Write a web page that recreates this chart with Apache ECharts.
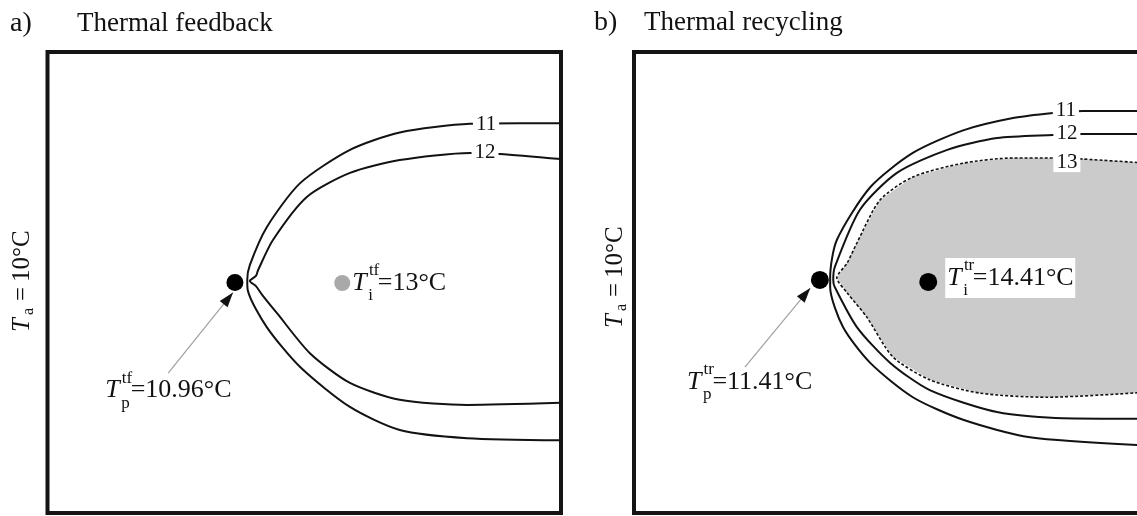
<!DOCTYPE html>
<html><head><meta charset="utf-8">
<script src="https://cdn.jsdelivr.net/npm/echarts@6/dist/echarts.min.js"></script>
<style>html,body{margin:0;padding:0;background:#fff}#c{width:1137px;height:516px}</style>
</head><body><div id="c"></div>
<script>
// Model units for each panel: x 0–100, y 0–90
const isotherm11A = [[100,76.1],[92,76.1],[82.3,76.0],[68.6,74.3],[58.9,70.9],[49.2,64.4],[42.7,55.8],[39.4,48.4],[38.9,45.5],[39.0,43.5],[42.7,36.3],[49.2,28.5],[58.9,20.7],[68.6,16.2],[81.7,14.6],[100,14.2]];
const isotherm12A = [[100,69.1],[88.1,70.1],[82.3,70.3],[68.6,68.9],[58.9,66.4],[50.5,61.7],[43.9,53.3],[41.0,47.4],[40.6,46.3],[39.4,45.3],[40.6,44.3],[41.8,42.6],[44.7,39.0],[51.1,31.2],[58.9,25.4],[68.6,22.1],[81.7,21.1],[100,21.5]];
const isotherm11B = [[100,78.5],[87.4,78.5],[81.6,78.1],[73.8,77.1],[64.1,74.7],[54.3,70.3],[46.0,63.6],[39.5,53.3],[38.2,46.1],[38.2,44.1],[40.7,36.3],[46.0,29.3],[54.3,22.6],[64.1,18.2],[77.1,14.8],[100,13.2]];
const isotherm12B = [[100,74.0],[87.4,74.0],[81.6,73.8],[70.7,73.2],[61.0,70.9],[51.2,66.4],[44.0,59.2],[39.1,48.0],[38.8,45.5],[39.1,44.1],[43.4,36.3],[49.9,29.3],[57.6,24.0],[70.7,19.7],[83.5,18.5],[100,18.4]];
const isotherm13B = [[100,68.3],[87.4,69.1],[81.6,69.3],[73.8,69.3],[64.1,68.3],[54.3,65.6],[47.9,61.1],[43.4,52.7],[41.5,48.8],[39.5,45.9],[41.5,43.0],[45.3,38.3],[50.4,30.5],[57.6,26.0],[67.4,23.4],[80.4,22.6],[100,23.6]];
const peakA = [36.5, 45.0];
const interiorA = [57.4, 44.9];
const peakB = [36.2, 45.5];
const interiorB = [57.3, 45.1];
const arrowA = [[23.5, 27.3], [36.1, 43.0]];
const arrowB = [[21.6, 28.5], [34.3, 43.9]];
const isothermValues = ['11', '12', '13'];
const panelTitles = ['Thermal feedback', 'Thermal recycling'];
const panelLetters = ['a)', 'b)'];
const ambientText = '10°C';
const tempLabels = {peakA: ['p','tf','=10.96°C'], interiorA: ['i','tf','=13°C'], peakB: ['p','tr','=11.41°C'], interiorB: ['i','tr','=14.41°C']};

const SERIF = '"Liberation Serif","Times New Roman",serif';
const INK = '#121212';
const chart = echarts.init(document.getElementById('c'));

function iso(data, gi, dashed) {
  return {type:'line', xAxisIndex:gi, yAxisIndex:gi, data, symbol:'none', smooth:0.25, silent:true, z:3,
    lineStyle:{color:INK, width:dashed?1.6:2, type:dashed?[3,2]:'solid'}};
}
function dot(data, gi, size, color) {
  return {type:'scatter', xAxisIndex:gi, yAxisIndex:gi, data:[data], symbolSize:size, silent:true, z:6,
    itemStyle:{color, opacity:1}};
}
function arrow(pts, gi) {
  const [t, h] = pts;
  const dx = h[0]-t[0], dy = h[1]-t[1], L = Math.hypot(dx, dy);
  const ang = Math.atan2(dy, dx) * 180 / Math.PI;
  const c = [h[0] - dx/L*1.4, h[1] - dy/L*1.4];
  return [
    {type:'line', xAxisIndex:gi, yAxisIndex:gi, data:pts, symbol:'none', silent:true, z:4,
      lineStyle:{color:'#a0a0a0', width:1.2}},
    {type:'scatter', xAxisIndex:gi, yAxisIndex:gi, data:[c], symbol:'triangle', symbolSize:[10,15],
      symbolRotate: ang - 90, silent:true, z:5, itemStyle:{color:'#111', opacity:1}}
  ];
}

const gridBase = {show:true, borderColor:'#141414', borderWidth:4, containLabel:false, outerBoundsMode:'none'};
const option = {
  animation:false,
  grid:[
    Object.assign({left:47.5, top:52, width:513.5, height:461}, gridBase),
    Object.assign({left:634, top:52, width:513.5, height:461}, gridBase)
  ],
  xAxis:[0,1].map(i=>({type:'value', gridIndex:i, min:0, max:100, show:false})),
  yAxis:[0,1].map(i=>({type:'value', gridIndex:i, min:0, max:90, show:false})),
  series:[
    {type:'custom', xAxisIndex:1, yAxisIndex:1, data:[0], silent:true, z:1,
      renderItem:(p, api)=>({type:'polygon', shape:{points:isotherm13B.map(d=>api.coord(d))}, style:{fill:'#cbcbcb'}})},
    iso(isotherm11A,0), iso(isotherm12A,0),
    iso(isotherm11B,1), iso(isotherm12B,1), iso(isotherm13B,1,true),
    dot(peakA,0,17,'#000'), dot(interiorA,0,16,'#a9a9a9'),
    dot(peakB,1,18,'#000'), dot(interiorB,1,18,'#000'),
    ...arrow(arrowA,0), ...arrow(arrowB,1)
  ]
};
chart.setOption(option);

function txt(x, y, s, fs, italic, extra) {
  return {type:'text', x, y, z:20, silent:true,
    style:Object.assign({text:s, fontFamily:SERIF, fontSize:fs, fontStyle:italic?'italic':'normal', fill:INK,
      align:'left', verticalAlign:'middle'}, extra||{})};
}
function texLabel(gi, anchor, off, parts, box) {
  const p = chart.convertToPixel({gridIndex:gi}, anchor);
  const x0 = p[0] + off[0], yc = p[1] + off[1];
  const fs = 26, s = 17;
  const els = [];
  if (box) els.push({type:'rect', z:15, silent:true, shape:{x:x0-2, y:yc-20, width:130, height:40}, style:{fill:'#fff'}});
  els.push(txt(x0, yc, 'T', fs, true));
  els.push(txt(x0 + 0.64*fs, yc - 12, parts[1], s));
  els.push(txt(x0 + 0.62*fs, yc + 13, parts[0], s));
  els.push(txt(x0 + 0.98*fs, yc, parts[2], fs));
  return els;
}
function isoLabel(gi, pos, s) {
  const p = chart.convertToPixel({gridIndex:gi}, pos);
  return txt(p[0], p[1], s, 21, false, {align:'center', backgroundColor:'#fff', padding:[0,3,0,3], lineHeight:19});
}
function ambient(x, y) {
  const fs = 25;
  return {type:'group', x, y, rotation:Math.PI/2, silent:true, children:[
    txt(-50, 0, 'T', fs, true),
    txt(-33, 7, 'a', 16),
    txt(-19, 0, '=', fs),
    txt(0, 0, ambientText, fs)
  ]};
}
const graphic = [
  txt(10, 24, panelLetters[0], 28), txt(77, 24, panelTitles[0], 27),
  txt(594, 23, panelLetters[1], 28), txt(644, 23, panelTitles[1], 27),
  ambient(22, 282), ambient(615, 278),
  isoLabel(0, [85.4, 75.9], isothermValues[0]), isoLabel(0, [85.2, 70.3], isothermValues[1]),
  isoLabel(1, [84.1, 78.5], isothermValues[0]), isoLabel(1, [84.3, 74.0], isothermValues[1]),
  isoLabel(1, [84.3, 68.4], isothermValues[2]),
  ...texLabel(0, interiorA, [10, 0], tempLabels.interiorA, false),
  ...texLabel(0, arrowA[0], [-63, 17], tempLabels.peakA, false),
  ...texLabel(1, interiorB, [19, -4], tempLabels.interiorB, true),
  ...texLabel(1, arrowB[0], [-58, 15], tempLabels.peakB, false)
];
chart.setOption({graphic});
</script></body></html>
